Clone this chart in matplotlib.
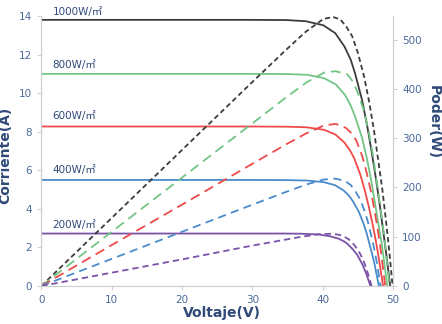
import matplotlib
matplotlib.use("Agg")
import matplotlib.pyplot as plt

# irradiance labels
labels = ["1000W/㎡", "800W/㎡", "600W/㎡", "400W/㎡", "200W/㎡"]
colors = ["#3c3c3c", "#72c585", "#ef4a4a", "#4a8bcb", "#7a52a8"]

# I-V curves (voltage, current)
v_1000 = [0, 10, 20, 30, 34.8, 37.6, 40.1, 41.8, 43.1, 44.0, 44.6, 45.6, 46.35, 47.0, 47.6, 48.15, 48.65, 49.15, 49.6]
i_1000 = [13.80, 13.80, 13.80, 13.80, 13.79, 13.73, 13.52, 13.11, 12.42, 11.73, 11.04, 9.66, 8.28, 6.90, 5.52, 4.14, 2.76, 1.38, 0]
v_800 = [0, 10, 20, 30, 35.0, 37.8, 40.2, 41.9, 43.2, 44.0, 44.6, 45.6, 46.3, 46.9, 47.4, 47.9, 48.4, 48.8, 49.2]
i_800 = [11.0, 11.0, 11.0, 11.0, 10.99, 10.95, 10.78, 10.45, 9.90, 9.35, 8.80, 7.70, 6.60, 5.50, 4.40, 3.30, 2.20, 1.10, 0]
v_600 = [0, 10, 20, 30, 34.95, 37.7, 40.2, 41.8, 43.1, 43.9, 44.5, 45.35, 46.0, 46.55, 47.05, 47.5, 47.9, 48.25, 48.6]
i_600 = [8.27, 8.27, 8.27, 8.27, 8.26, 8.23, 8.10, 7.86, 7.44, 7.03, 6.62, 5.79, 4.96, 4.14, 3.31, 2.48, 1.65, 0.83, 0]
v_400 = [0, 10, 20, 30, 34.9, 37.7, 40.1, 41.75, 43.0, 43.75, 44.3, 45.15, 45.75, 46.25, 46.65, 47.05, 47.4, 47.7, 48.0]
i_400 = [5.50, 5.50, 5.50, 5.50, 5.49, 5.47, 5.39, 5.23, 4.95, 4.68, 4.40, 3.85, 3.30, 2.75, 2.20, 1.65, 1.10, 0.55, 0]
v_200 = [0, 10, 20, 30, 34.3, 37.0, 39.45, 41.05, 42.3, 43.05, 43.55, 44.3, 44.9, 45.3, 45.7, 46.0, 46.3, 46.55, 46.8]
i_200 = [2.72, 2.72, 2.72, 2.72, 2.72, 2.71, 2.67, 2.58, 2.45, 2.31, 2.18, 1.90, 1.63, 1.36, 1.09, 0.82, 0.54, 0.27, 0]

# P-V curves (voltage, power)
pv_1000 = [0, 10, 20, 30, 35, 37.6, 40.1, 41.5, 42.5, 43.3, 44.2, 45.0, 45.9, 46.6, 47.3, 47.9, 48.5, 49.0, 49.5, 49.95]
p_1000 = [0, 138, 276, 414, 482, 516, 542, 546, 541, 528, 507, 474, 425, 375, 316, 256, 195, 134, 68, 0]
pv_800 = [0, 10, 20, 30, 35, 37.8, 40.2, 41.8, 43.5, 44.3, 44.9, 45.9, 46.6, 47.2, 47.7, 48.2, 48.7, 49.1, 49.5]
p_800 = [0, 110, 220, 330, 385, 414, 433, 436, 430, 415, 396, 355, 310, 262, 212, 160, 108, 55, 0]
pv_600 = [0, 10, 20, 30, 35, 37.7, 40.2, 41.9, 43.3, 44.2, 44.8, 45.65, 46.3, 46.85, 47.35, 47.8, 48.2, 48.55, 48.9]
p_600 = [0, 83, 165, 248, 289, 310, 326, 329, 321, 309, 295, 263, 228, 193, 156, 118, 79, 40, 0]
pv_400 = [0, 10, 20, 30, 35, 37.7, 40.1, 41.8, 43.2, 44.0, 44.55, 45.4, 46.0, 46.5, 46.9, 47.3, 47.65, 47.95, 48.25]
p_400 = [0, 55, 110, 165, 192, 206, 216, 218, 213, 205, 195, 174, 151, 127, 103, 78, 52, 26, 0]
pv_200 = [0, 10, 20, 30, 34.3, 37.0, 39.45, 41.05, 42.4, 43.2, 43.7, 44.45, 45.05, 45.45, 45.85, 46.15, 46.45, 46.7, 46.95]
p_200 = [0, 27, 54, 82, 93, 100, 105, 106, 104, 99, 95, 84, 73, 62, 50, 38, 25, 13, 0]

iv = [(v_1000, i_1000), (v_800, i_800), (v_600, i_600), (v_400, i_400), (v_200, i_200)]
pv = [(pv_1000, p_1000), (pv_800, p_800), (pv_600, p_600), (pv_400, p_400), (pv_200, p_200)]
dashes = [(2.8, 1.8), (5.5, 3.2), (5.5, 3.2), (4.5, 3.0), (3.5, 2.2)]
label_y = [14.2, 11.45, 8.8, 6.0, 3.15]

txt = "#2f4a78"
tick_col = "#4a6a9a"
spine_col = "#cfcfcf"

fig = plt.figure(figsize=(4.42, 3.24), dpi=100)
ax = fig.add_axes([0.0935, 0.1173, 0.7955, 0.8333])
ax2 = ax.twinx()

for k in range(5):
    ax.plot(iv[k][0], iv[k][1], color=colors[k], lw=1.3, solid_capstyle="round")
    ax2.plot(pv[k][0], pv[k][1], color=colors[k], lw=1.3, dashes=dashes[k])
    ax.text(1.6, label_y[k], labels[k], color=txt, fontsize=7.5,
            family=["DejaVu Sans", "Noto Sans CJK SC"], va="center", ha="left", clip_on=False)

ax.set_xlim(0, 50)
ax.set_ylim(0, 14)
ax2.set_ylim(0, 548)
ax.set_xticks([0, 10, 20, 30, 40, 50])
ax.set_yticks([0, 2, 4, 6, 8, 10, 12, 14])
ax2.set_yticks([0, 100, 200, 300, 400, 500])

for a in (ax, ax2):
    a.spines["top"].set_visible(False)
    for s in ("left", "right", "bottom"):
        a.spines[s].set_color(spine_col)
        a.spines[s].set_linewidth(0.8)
    a.tick_params(colors=spine_col, labelcolor=tick_col, labelsize=7.5, length=3, width=0.7)

ax.set_xlabel("Voltaje(V)", fontsize=10, fontweight="bold", color=txt)
ax.set_ylabel("Corriente(A)", fontsize=10, fontweight="bold", color=txt)
ax2.set_ylabel("Poder(W)", fontsize=10, fontweight="bold", color=txt, rotation=-90)
ax.xaxis.set_label_coords(0.514, -0.075)
ax.yaxis.set_label_coords(-0.082, 0.485)
ax2.yaxis.set_label_coords(1.115, 0.607)
ax2.yaxis.label.set_va("center")

fig.savefig("out.png", dpi=100)
